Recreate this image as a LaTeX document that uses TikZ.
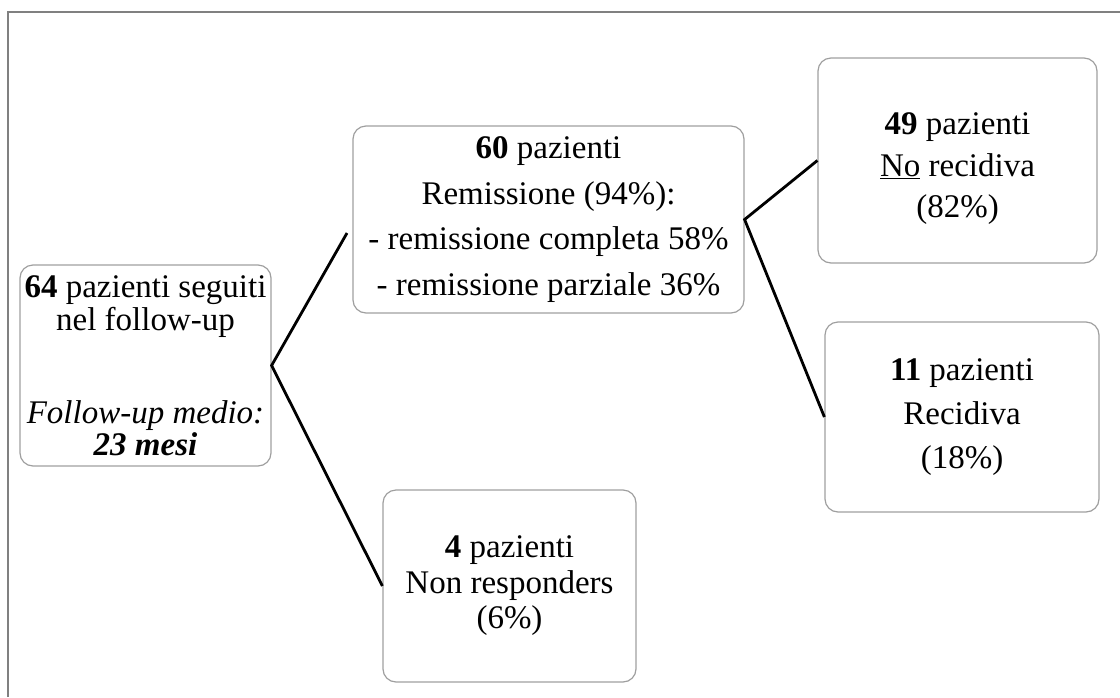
\documentclass[tikz,border=0pt]{standalone}
\usepackage{fontspec}
\setmainfont{Liberation Serif}
\begin{document}
\begin{tikzpicture}[x=1pt,y=-1pt,
  box/.style={draw=gray!75,line width=1.2pt,rounded corners=13pt,inner sep=0pt,align=center},
  link/.style={draw=black,line width=2.8pt},
  frame/.style={draw=gray,line width=2pt}]
\useasboundingbox (0,0) rectangle (1120,697);
\draw[frame] (7.5,697) -- (7.5,12) -- (1120,12);

\node[box,minimum width=251pt,minimum height=201pt,font=\fontsize{33}{33}\selectfont] (A) at (145.5,365.5)
  {\textbf{64} pazienti seguiti\\ nel follow-up\\[60pt] \textit{Follow-up medio:}\\[-1pt] \textbf{\textit{23 mesi}}};
\node[box,minimum width=391pt,minimum height=187pt,font=\fontsize{33}{45.5}\selectfont] (B) at (548.5,219.5)
  {\textbf{60} pazienti\\ Remissione (94\%):\\ - remissione completa 58\%\\ - remissione parziale 36\%};
\node[box,minimum width=279pt,minimum height=205pt] (C) at (957.5,160.5) {};
\node[font=\fontsize{33}{41.5}\selectfont,align=center,inner sep=0pt] (Ct) at (957.5,169)
  {\textbf{49} pazienti\\ \underline{No} recidiva\\ (82\%)};
\node[box,minimum width=274pt,minimum height=190pt,font=\fontsize{33}{44}\selectfont] (D) at (962,417)
  {\textbf{11} pazienti\\ Recidiva\\ (18\%)};
\node[box,minimum width=253pt,minimum height=192pt,font=\fontsize{33}{35.5}\selectfont] (E) at (509.5,586)
  {\textbf{4} pazienti\\ Non responders\\ (6\%)};

\coordinate (c1) at (347,233);
\draw[link] (c1) -- (A.east) -- (E.west);
\draw[link] (C.west) -- (B.east) -- (D.west);
\end{tikzpicture}
\end{document}
